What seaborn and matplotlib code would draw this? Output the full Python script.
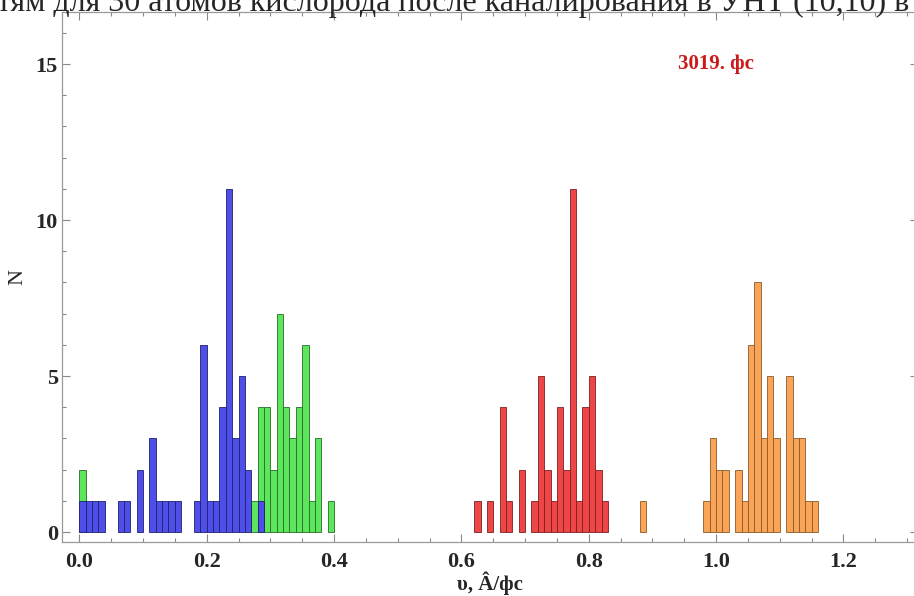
import numpy as np
import pandas as pd
import matplotlib
matplotlib.use("Agg")
import matplotlib.pyplot as plt
import seaborn as sns
from matplotlib.ticker import MultipleLocator

# bin start (A/fs) and counts for each group, bin width 0.01
blue_v = [0.00, 0.01, 0.02, 0.03, 0.06, 0.07, 0.09, 0.11, 0.12, 0.13, 0.14,
          0.15, 0.18, 0.19, 0.20, 0.21, 0.22, 0.23, 0.24, 0.25, 0.26, 0.28]
blue_n = [1, 1, 1, 1, 1, 1, 2, 3, 1, 1, 1, 1, 1, 6, 1, 1, 4, 11, 3, 5, 2, 1]

green_v = [0.00, 0.27, 0.28, 0.29, 0.30, 0.31, 0.32, 0.33, 0.34, 0.35, 0.36,
           0.37, 0.39]
green_n = [2, 1, 4, 4, 2, 7, 4, 3, 4, 6, 1, 3, 1]

red_v = [0.62, 0.64, 0.66, 0.67, 0.69, 0.71, 0.72, 0.73, 0.74, 0.75, 0.76,
         0.77, 0.78, 0.79, 0.80, 0.81, 0.82]
red_n = [1, 1, 4, 1, 2, 1, 5, 2, 1, 4, 2, 11, 1, 4, 5, 2, 1]

orange_v = [0.88, 0.98, 0.99, 1.00, 1.01, 1.03, 1.04, 1.05, 1.06, 1.07, 1.08,
            1.09, 1.11, 1.12, 1.13, 1.14, 1.15]
orange_n = [1, 1, 3, 2, 2, 2, 1, 6, 8, 3, 5, 3, 5, 3, 3, 1, 1]

title_part = "тям для 30 атомов кислорода после каналирования в УНТ (10,10) в"
time_label = "3019. фс"
x_ticks = [0.0, 0.2, 0.4, 0.6, 0.8, 1.0, 1.2]
y_ticks = [0, 5, 10, 15]

sns.set_style("ticks")
plt.rcParams['font.family'] = ['Liberation Serif', 'DejaVu Serif']

bin_w = 0.01

fig = plt.figure(figsize=(9.14, 5.96), dpi=100)
ax = fig.add_axes([62 / 914, 54 / 596, 856 / 914, 530 / 596])

groups = [
    (orange_v, orange_n, "#F9A456", "#8a5a2a"),
    (red_v, red_n, "#EE4646", "#7a2020"),
    (green_v, green_n, "#5CE65C", "#2a6a2a"),
    (blue_v, blue_n, "#4E4EE8", "#20206a"),
]
for v, n, fc, ec in groups:
    df = pd.DataFrame({"v": np.array(v) + bin_w / 2, "n": n})
    sns.histplot(data=df, x="v", weights="n", binwidth=bin_w,
                 binrange=(0, 1.16), color=fc, edgecolor=ec, alpha=1,
                 linewidth=0.6, ax=ax)

# empty bins would otherwise show as a line along zero
for p in ax.patches:
    if p.get_height() == 0:
        p.set_visible(False)

ax.set_xlim(-0.0272, 1.317)
ax.set_ylim(-0.32, 16.67)
ax.set_xticks(x_ticks)
ax.set_xticklabels([f"{t:.1f}" for t in x_ticks])
ax.set_yticks(y_ticks)
ax.xaxis.set_minor_locator(MultipleLocator(0.05))
ax.yaxis.set_minor_locator(MultipleLocator(1))
ax.tick_params(which="both", direction="in", top=True, right=True,
               color="#888888", width=0.8)
ax.tick_params(which="major", length=6, labelsize=16)
ax.tick_params(which="minor", length=3)
ax.tick_params(axis="x", which="major", pad=7)
ax.tick_params(axis="y", which="major", pad=3)
for lab in ax.get_xticklabels() + ax.get_yticklabels():
    lab.set_fontweight("bold")
for s in ax.spines.values():
    s.set_color("#999999")
    s.set_linewidth(0.9)

ax.set_xlabel("υ, Â/фс", fontsize=15, fontweight="bold", labelpad=0)
ax.set_ylabel("N", fontsize=16, labelpad=6)

ax.text(1.0, 15.0, time_label, color="#CC1A1A", fontsize=15,
        fontweight="bold", ha="center", va="center")

fig.text(-3 / 914, 1 - 11 / 596, title_part, fontsize=23, ha="left",
         va="baseline")

fig.savefig("out.png", dpi=100)
